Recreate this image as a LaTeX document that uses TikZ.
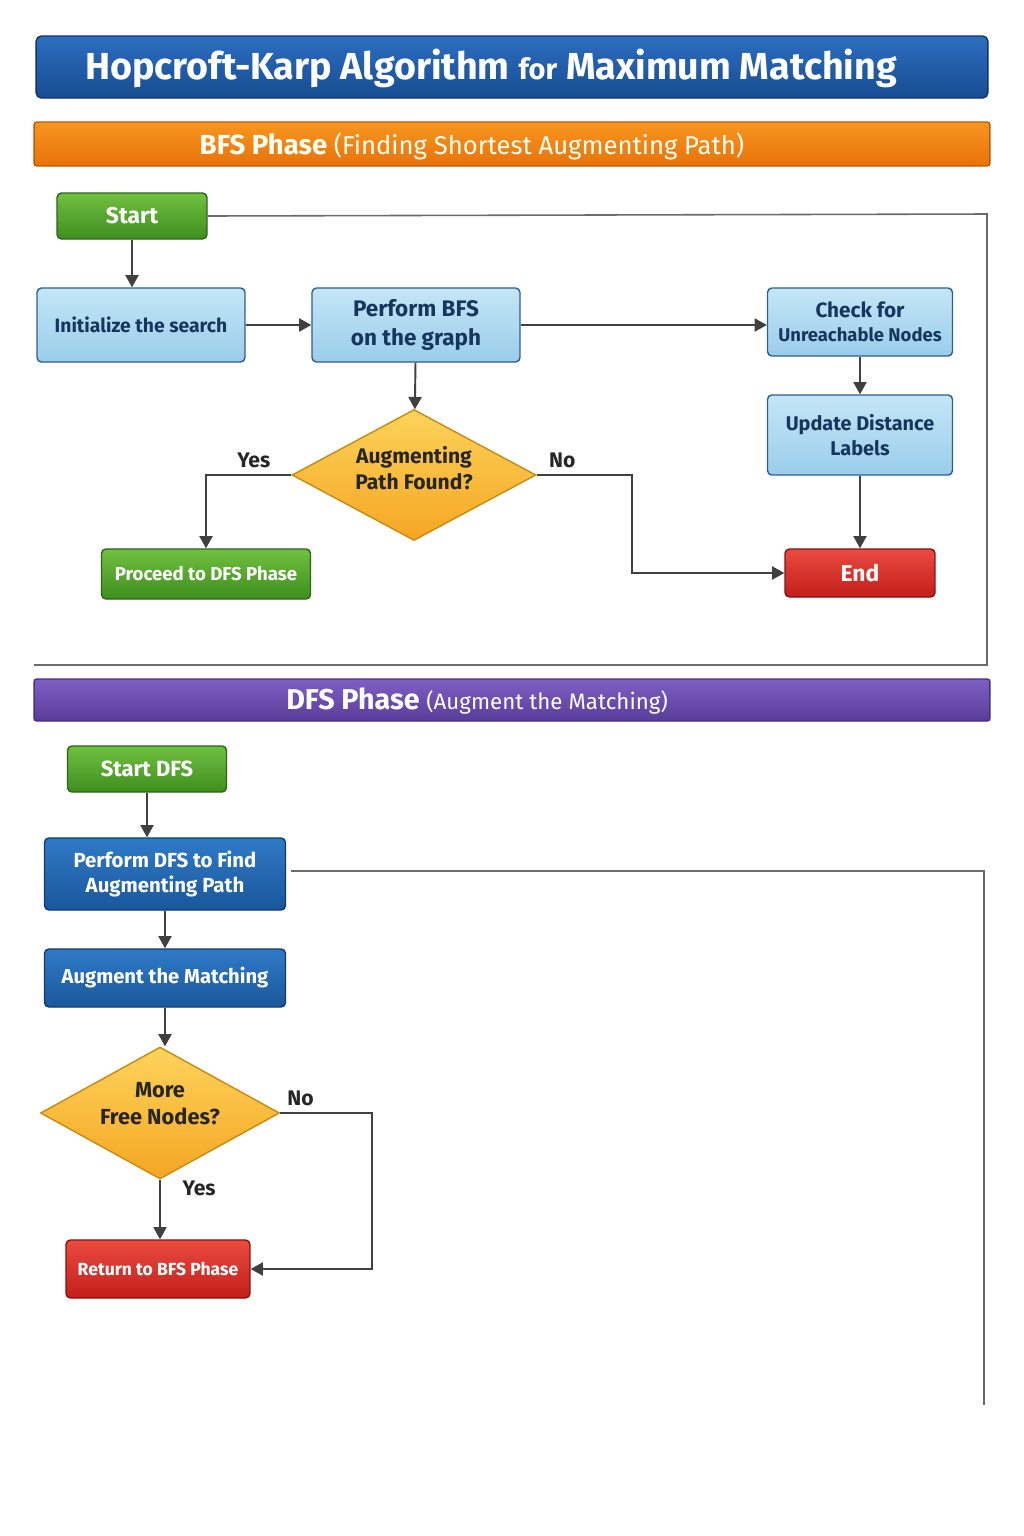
\documentclass[tikz,border=0pt]{standalone}
\usepackage{fontspec}
\setmainfont{Fira Sans}
\usetikzlibrary{positioning, arrows.meta, shapes.geometric}
\definecolor{titletop}{HTML}{2C6EC0}
\definecolor{titlebot}{HTML}{174C92}
\definecolor{titleline}{HTML}{0E3468}
\definecolor{bfstop}{HTML}{F7961F}
\definecolor{bfsbot}{HTML}{E8720B}
\definecolor{dfstop}{HTML}{7E5FC2}
\definecolor{dfsbot}{HTML}{5A3C9C}
\definecolor{greentop}{HTML}{70C040}
\definecolor{greenbot}{HTML}{3E8E1E}
\definecolor{greenline}{HTML}{2C6516}
\definecolor{lighttop}{HTML}{C4E6F7}
\definecolor{lightbot}{HTML}{9ACDEA}
\definecolor{lightline}{HTML}{2B5F91}
\definecolor{navytext}{HTML}{17365D}
\definecolor{darktop}{HTML}{2F7AC6}
\definecolor{darkbot}{HTML}{1A579C}
\definecolor{darkline}{HTML}{0F3A70}
\definecolor{goldtop}{HTML}{FDD35A}
\definecolor{goldbot}{HTML}{F5A623}
\definecolor{goldline}{HTML}{C98A10}
\definecolor{redtop}{HTML}{EA4A3F}
\definecolor{redbot}{HTML}{C21F1A}
\definecolor{redline}{HTML}{8A1010}
\definecolor{flowgray}{HTML}{404040}
\definecolor{framegray}{HTML}{6A6A6A}
\newcommand{\fsz}[2]{\bfseries\fontsize{#1}{#2}\selectfont}
\tikzset{
    box/.style = {
        rounded corners = 2.5pt,
        line width = 0.8pt,
        align = center,
        inner sep = 2pt,
        font = \fsz{11}{14}
    },
    lightbox/.style = {
        box,
        top color = lighttop,
        bottom color = lightbot,
        draw = lightline,
        text = navytext
    },
    darkbox/.style = {
        box,
        top color = darktop,
        bottom color = darkbot,
        draw = darkline,
        text = white
    },
    greenbox/.style = {
        box,
        top color = greentop,
        bottom color = greenbot,
        draw = greenline,
        text = white
    },
    redbox/.style = {
        box,
        top color = redtop,
        bottom color = redbot,
        draw = redline,
        text = white
    },
    decision/.style = {
        diamond,
        aspect = 1.86,
        line width = 0.8pt,
        inner sep = 0pt,
        align = center,
        top color = goldtop,
        bottom color = goldbot,
        draw = goldline,
        text = black!85,
        font = \fsz{12}{15}
    },
    bar/.style = {
        rounded corners = 1.5pt,
        line width = 0.8pt,
        minimum width = 19.12cm,
        inner sep = 0pt
    },
    flow/.style = {
        draw = flowgray,
        line width = 1.1pt,
        -{Triangle[length = 7pt, width = 7.5pt]}
    },
    frame/.style = {
        draw = framegray,
        line width = 0.9pt
    },
    answer/.style = {
        text = black!85,
        font = \fsz{12}{14}
    }
}
\begin{document}
\begin{tikzpicture}[x = 0.02cm, y = -0.02cm]
    \useasboundingbox[fill = white] (0, 0) rectangle (1024, 1536);

    \node[bar, rounded corners = 3pt, minimum width = 19.04cm, minimum height = 1.24cm,
        top color = titletop, bottom color = titlebot, draw = titleline] (titlebar) at (512, 67) {};
    \node[text = white, font = \fsz{21.4}{26}] (title) at (491, 68)
        {Hopcroft-Karp Algorithm {\fontsize{16.5}{20}\selectfont for} Maximum Matching};

    \node[bar, minimum height = 0.88cm, top color = bfstop, bottom color = bfsbot, draw = bfsbot!80!black] (bfsbar) at (512, 144) {};
    \node[text = white!95!yellow] (bfstitle) at (472, 146)
        {\fsz{15.7}{18}BFS Phase \mdseries\fontsize{14.6}{18}\selectfont(Finding Shortest Augmenting Path)};

    \node[greenbox, minimum width = 3.0cm, minimum height = 0.92cm, font = \fsz{13}{16}] (start) at (132, 216) {Start};
    \node[lightbox, minimum width = 4.16cm, minimum height = 1.48cm] (init) at (141, 325) {Initialize the search};
    \node[lightbox, minimum width = 4.16cm, minimum height = 1.48cm, font = \fsz{12.8}{16}] (bfs) at (416, 325) {Perform BFS\\on the graph};
    \node[lightbox, minimum width = 3.7cm, minimum height = 1.36cm, font = \fsz{10.5}{13.5}] (check) at (860, 322) {{\fontsize{11.8}{14}\selectfont Check for}\\Unreachable Nodes};
    \node[lightbox, minimum width = 3.7cm, minimum height = 1.6cm, font = \fsz{11.3}{14}] (update) at (860, 435) {Update Distance\\Labels};
    \node[decision, minimum width = 4.88cm, minimum height = 2.62cm, text depth = 8pt] (found) at (414, 475) {Augmenting\\Path Found?};
    \node[greenbox, minimum width = 4.18cm, minimum height = 1.0cm, font = \fsz{10.6}{13}] (proceed) at (206, 574) {Proceed to DFS Phase};
    \node[redbox, minimum width = 3.0cm, minimum height = 0.96cm, font = \fsz{13}{16}] (finish) at (860, 573) {End};

    \coordinate (bfscorner) at (987, 214);
    \coordinate (bfsend) at (34, 665);

    \draw[flow] (start) -- (start |- init.north);
    \draw[flow] (init) -- (bfs);
    \draw[flow] (bfs.east) -- (bfs.east -| check.west);
    \draw[flow] (bfs) -- (found);
    \draw[flow] (check) -- (update);
    \draw[flow] (update) -- (finish);
    \draw[flow] (found.west) -| node[answer, above, pos = 0.22] {Yes} (proceed.north);
    \draw[flow] (found.east) -- node[answer, above, pos = 0.27] {No} ++(95, 0) |- (finish.west);
    \draw[frame] (start.east) -- (bfscorner) |- (bfsend);

    \node[bar, minimum height = 0.84cm, top color = dfstop, bottom color = dfsbot, draw = dfsbot!80!black] (dfsbar) at (512, 700) {};
    \node[text = white] (dfstitle) at (477, 701)
        {\fsz{16.3}{19}DFS Phase \mdseries\fontsize{12.7}{18}\selectfont(Augment the Matching)};

    \node[greenbox, minimum width = 3.18cm, minimum height = 0.92cm, font = \fsz{12.5}{15}] (startdfs) at (147, 769) {Start DFS};
    \node[darkbox, minimum width = 4.82cm, minimum height = 1.44cm, font = \fsz{11.6}{14.5}] (dfs) at (165, 874) {Perform DFS to Find\\Augmenting Path};
    \node[darkbox, minimum width = 4.82cm, minimum height = 1.16cm, font = \fsz{11.5}{14}] (augment) at (165, 978) {Augment the Matching};
    \node[decision, minimum width = 4.78cm, minimum height = 2.64cm, font = \fsz{12.4}{15.8}, text depth = 11pt] (more) at (160, 1113) {More\\Free Nodes?};
    \node[redbox, minimum width = 3.68cm, minimum height = 1.16cm, font = \fsz{10}{12}] (back) at (158, 1269) {Return to BFS Phase};

    \coordinate (dfsend) at (984, 1405);

    \draw[flow] (startdfs) -- (startdfs |- dfs.north);
    \draw[flow] (dfs) -- (dfs |- augment.north);
    \draw[flow] (augment) -- (augment |- more.north);
    \draw[flow] (more.south) -- node[answer, right, pos = 0.15, xshift = 9pt] {Yes} (more.south |- back.north);
    \draw[flow] (more.east) -- node[answer, above, pos = 0.22] {No} ++(92, 0) |- (back.east);
    \draw[frame] (dfs.east) ++(5, -3) -| (dfsend);
\end{tikzpicture}
\end{document}
